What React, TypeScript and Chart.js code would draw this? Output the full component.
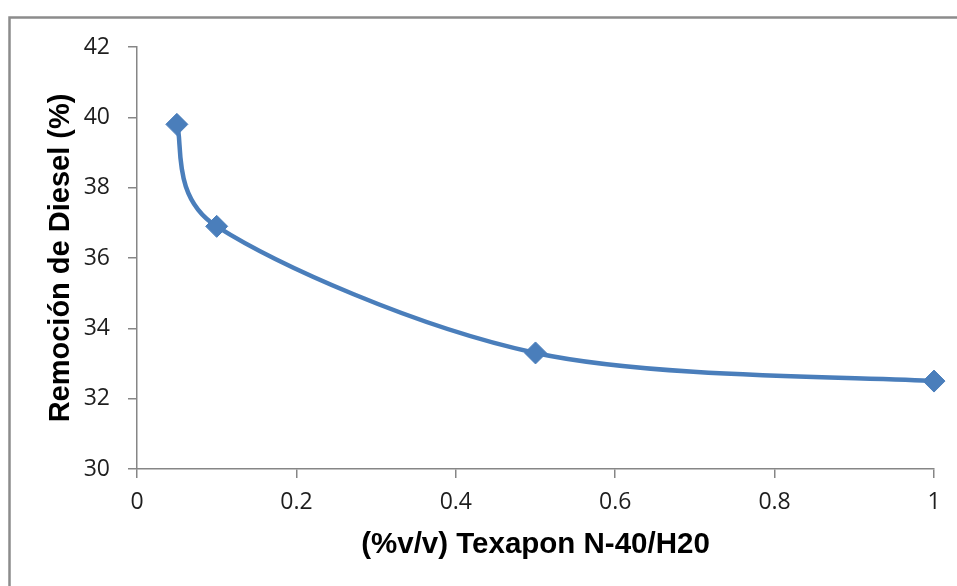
import { useEffect, useRef } from 'react';
import { Chart, registerables } from 'chart.js';

Chart.register(...registerables);

// Surfactant concentration (% v/v) and diesel removal (%)
const concentrations = [0.05, 0.1, 0.5, 1];
const dieselRemoval = [39.8, 36.9, 33.3, 32.5];

const xTitle = '(%v/v) Texapon N-40/H20';
const yTitle = 'Remoción de Diesel (%)';

const xMin = 0;
const xMax = 1;
const xStep = 0.2;
const yMin = 30;
const yMax = 42;
const yStep = 2;

const WIDTH = 957;
const HEIGHT = 586;
const SERIES_BLUE = '#4A7EBB';
const AXIS_GRAY = '#868686';
const TICK_COLOR = '#1e1e1e';
const TICK_FONT = { family: '"Open Sans", "Liberation Sans", sans-serif', size: 23 };
const TITLE_FAMILY = '"Liberation Sans", Arial, sans-serif';

// Gray frame around the whole chart
const framePlugin = {
  id: 'frame',
  beforeDraw(chart: Chart) {
    const { ctx } = chart;
    ctx.save();
    ctx.strokeStyle = '#8c8c8c';
    ctx.lineWidth = 2.5;
    ctx.strokeRect(9.5, 17.5, chart.width + 40, chart.height + 40);
    ctx.restore();
  },
};

const dist = (a: any, b: any) => Math.hypot(b.x - a.x, b.y - a.y);

// Catmull-Rom style smoothing (tangent = (next - prev) / 6) where each control leg
// is limited to half of its own segment, as in office-suite smoothed lines
const smoothLinePlugin = {
  id: 'smoothLine',
  beforeDatasetDraw(chart: Chart, args: any) {
    const meta = args.meta;
    const line: any = meta.dataset;
    const pts: any[] = meta.data;
    if (!line || !pts || pts.length < 2) return;
    if (typeof line.updateControlPoints === 'function') {
      line.updateControlPoints(chart.chartArea, meta.indexAxis);
    }
    line._pointsUpdated = true;
    line._path = undefined;
    const n = pts.length;
    const f = 1 / 6;
    for (let i = 0; i < n; i++) {
      const cur = pts[i];
      const prev = pts[Math.max(i - 1, 0)];
      const next = pts[Math.min(i + 1, n - 1)];
      const span = dist(prev, next);
      const tx = next.x - prev.x;
      const ty = next.y - prev.y;
      // incoming leg (segment prev -> cur)
      let fIn = f;
      const dPrev = dist(prev, cur);
      if (span > 0 && f * span > dPrev / 2) fIn = dPrev / (2 * span);
      // outgoing leg (segment cur -> next)
      let fOut = f;
      const dNext = dist(cur, next);
      if (span > 0 && f * span > dNext / 2) fOut = dNext / (2 * span);
      cur.cp1x = cur.x - fIn * tx;
      cur.cp1y = cur.y - fIn * ty;
      cur.cp2x = cur.x + fOut * tx;
      cur.cp2y = cur.y + fOut * ty;
    }
  },
};

const formatTick = (v: number | string) => `${+Number(v).toFixed(2)}`;

export default function App() {
  const canvasRef = useRef<HTMLCanvasElement>(null);

  useEffect(() => {
    const canvas = canvasRef.current;
    if (!canvas) return;
    const chart = new Chart(canvas, {
      type: 'line',
      data: {
        datasets: [
          {
            label: 'Remoción',
            data: concentrations.map((x, i) => ({ x, y: dieselRemoval[i] })),
            borderColor: SERIES_BLUE,
            backgroundColor: SERIES_BLUE,
            borderWidth: 4.5,
            tension: 0.4,
            fill: false,
            clip: false,
            pointStyle: 'rectRot',
            pointRadius: 11,
            pointBackgroundColor: SERIES_BLUE,
            pointBorderColor: SERIES_BLUE,
            pointBorderWidth: 1,
          },
        ],
      },
      options: {
        animation: false,
        responsive: false,
        devicePixelRatio: 1,
        layout: { padding: { top: 47, right: 23, bottom: 0, left: 0 } },
        plugins: {
          legend: { display: false },
          tooltip: { enabled: false },
        },
        scales: {
          x: {
            type: 'linear',
            min: xMin,
            max: xMax,
            ticks: { stepSize: xStep, padding: 11, color: TICK_COLOR, font: TICK_FONT, callback: formatTick },
            grid: {
              drawOnChartArea: false,
              drawTicks: true,
              tickLength: 9,
              color: AXIS_GRAY,
              lineWidth: 1.5,
            },
            border: { display: true, color: AXIS_GRAY, width: 1.5 },
            title: {
              display: true,
              text: xTitle,
              color: '#000',
              font: { family: TITLE_FAMILY, size: 29.5, weight: 'bold' },
              padding: { top: 0, bottom: 23 },
            },
            afterFit(scale: any) {
              scale.height = HEIGHT - 469;
            },
          },
          y: {
            type: 'linear',
            min: yMin,
            max: yMax,
            ticks: { stepSize: yStep, padding: 18, color: TICK_COLOR, font: TICK_FONT, callback: formatTick },
            grid: {
              drawOnChartArea: false,
              drawTicks: true,
              tickLength: 9,
              color: AXIS_GRAY,
              lineWidth: 1.5,
            },
            border: { display: true, color: AXIS_GRAY, width: 1.5 },
            title: {
              display: true,
              text: yTitle,
              color: '#000',
              font: { family: TITLE_FAMILY, size: 29, weight: 'bold' },
              padding: { top: 44, bottom: 0 },
            },
            afterFit(scale: any) {
              scale.width = 137;
            },
          },
        },
      },
      plugins: [framePlugin, smoothLinePlugin],
    });
    return () => chart.destroy();
  }, []);

  return (
    <div style={{ position: 'absolute', left: 0, top: 0, width: WIDTH, height: HEIGHT, background: '#fff' }}>
      <canvas ref={canvasRef} width={WIDTH} height={HEIGHT} style={{ display: 'block', width: WIDTH, height: HEIGHT }} />
    </div>
  );
}
